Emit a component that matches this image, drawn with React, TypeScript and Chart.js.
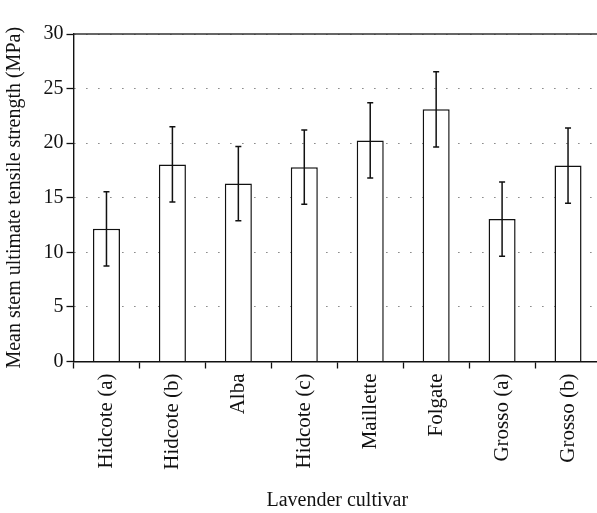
import React, { useEffect, useRef } from "react";
import { Chart, registerables } from "chart.js";

Chart.register(...registerables);

const categories = [
  "Hidcote (a)",
  "Hidcote (b)",
  "Alba",
  "Hidcote (c)",
  "Maillette",
  "Folgate",
  "Grosso (a)",
  "Grosso (b)",
];
const means = [12.15, 18.05, 16.3, 17.8, 20.25, 23.1, 13.05, 17.95];
const errors = [3.4, 3.45, 3.4, 3.4, 3.45, 3.45, 3.4, 3.45];
const yTicks = [0, 5, 10, 15, 20, 25, 30];

const FONT = "'Liberation Serif', 'DejaVu Serif', serif";

const errorBarPlugin = {
  id: "errorBars",
  afterDatasetsDraw(chart: any) {
    const ctx = chart.ctx;
    const meta = chart.getDatasetMeta(0);
    const y = chart.scales.y;
    ctx.save();
    ctx.strokeStyle = "#111";
    ctx.lineWidth = 1.5;
    meta.data.forEach((bar: any, i: number) => {
      const x = bar.x;
      const top = y.getPixelForValue(means[i] + errors[i]);
      const bot = y.getPixelForValue(means[i] - errors[i]);
      const cap = 3;
      ctx.beginPath();
      ctx.moveTo(x, top);
      ctx.lineTo(x, bot);
      ctx.moveTo(x - cap, top);
      ctx.lineTo(x + cap, top);
      ctx.moveTo(x - cap, bot);
      ctx.lineTo(x + cap, bot);
      ctx.stroke();
    });
    ctx.restore();
  },
};

const topLinePlugin = {
  id: "topLine",
  beforeDatasetsDraw(chart: any) {
    const ctx = chart.ctx;
    const y = chart.scales.y;
    const { left, right } = chart.chartArea;
    const py = y.getPixelForValue(yTicks[yTicks.length - 1]);
    ctx.save();
    ctx.strokeStyle = "#333";
    ctx.lineWidth = 1.6;
    ctx.beginPath();
    ctx.moveTo(left, py);
    ctx.lineTo(right, py);
    ctx.stroke();
    ctx.restore();
  },
};

export default function App() {
  const ref = useRef<HTMLCanvasElement>(null);

  useEffect(() => {
    if (!ref.current) return;
    const chart = new Chart(ref.current, {
      type: "bar",
      data: {
        labels: categories,
        datasets: [
          {
            data: means,
            backgroundColor: "#ffffff",
            borderColor: "#111",
            borderWidth: 1.5,
            borderSkipped: "bottom",
            barPercentage: 0.41,
            categoryPercentage: 1,
          },
        ],
      },
      options: {
        responsive: false,
        animation: false,
        layout: { padding: { top: 34, left: 0, right: 0, bottom: 0 } },
        plugins: {
          legend: { display: false },
          tooltip: { enabled: false },
        },
        scales: {
          x: {
            offset: true,
            grid: {
              offset: true,
              drawOnChartArea: false,
              drawTicks: true,
              tickLength: 7,
              tickColor: "#111",
              tickWidth: 1.3,
            },
            border: { display: true, color: "#111", width: 1.4 },
            ticks: {
              minRotation: 90,
              maxRotation: 90,
              autoSkip: false,
              padding: 5,
              color: "#111",
              font: { family: FONT, size: 21 },
            },
            title: {
              display: true,
              text: "Lavender cultivar",
              color: "#111",
              font: { family: FONT, size: 20 },
              padding: { top: 0, bottom: 0 },
            },
            afterFit: (s: any) => {
              s.height = 151.5;
            },
          },
          y: {
            min: 0,
            max: 30,
            afterBuildTicks: (s: any) => {
              s.ticks = yTicks.map((v) => ({ value: v }));
            },
            grid: {
              color: "#444",
              lineWidth: 1,
              drawTicks: true,
              tickLength: 7,
              tickColor: "#111",
              tickWidth: 1.3,
              tickBorderDash: [],
            },
            border: { display: true, color: "#111", width: 1.4, dash: [1, 11] },
            ticks: {
              padding: 3,
              color: "#111",
              font: { family: FONT, size: 20 },
            },
            title: {
              display: true,
              text: "Mean stem ultimate tensile strength (MPa)",
              color: "#111",
              font: { family: FONT, size: 20 },
              padding: { top: 3, bottom: 0 },
            },
            afterFit: (s: any) => {
              s.width = 73.5;
            },
          },
        },
      },
      plugins: [topLinePlugin, errorBarPlugin],
    });
    return () => chart.destroy();
  }, []);

  return (
    <div
      style={{
        position: "fixed",
        left: 0,
        top: 0,
        width: 597,
        height: 513,
        overflow: "hidden",
        background: "#fff",
      }}
    >
      <canvas ref={ref} width={601} height={513} style={{ display: "block" }} />
    </div>
  );
}
